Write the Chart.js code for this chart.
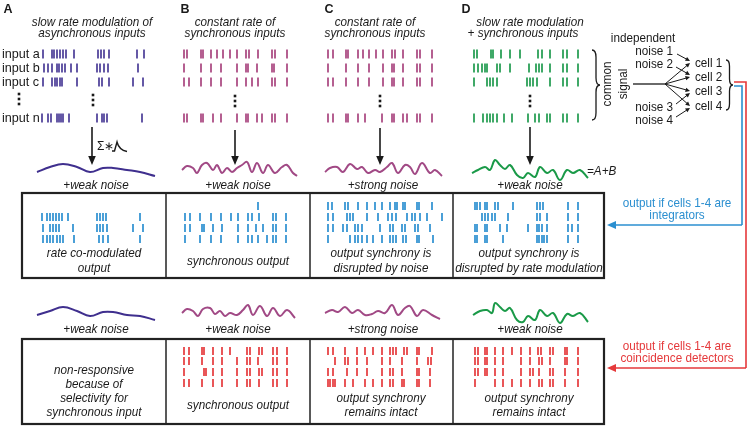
<!DOCTYPE html>
<html><head><meta charset="utf-8">
<script src="https://cdn.jsdelivr.net/npm/chart.js@4.4.0/dist/chart.umd.min.js"></script>
<style>html,body{margin:0;padding:0;background:#fff;overflow:hidden}canvas{display:block}</style>
</head><body>
<canvas id="c" width="750" height="427" style="width:750px;height:427px"></canvas>
<script>
// ---------- DATA ----------
const panelLetters = ['A','B','C','D'];
const panelTitles = [['slow rate modulation of','asynchronous inputs'],['constant rate of','synchronous inputs'],['constant rate of','synchronous inputs'],['slow rate modulation','+ synchronous inputs']];
const inputLabels = ['input a','input b','input c','input n'];
const noiseLabelsRow1 = ['+weak noise','+weak noise','+strong noise','+weak noise'];
const noiseLabelsRow2 = ['+weak noise','+weak noise','+strong noise','+weak noise'];
const box1Texts = [['rate co-modulated','output'],['synchronous output'],['output synchrony is','disrupted by noise'],['output synchrony is','disrupted by rate modulation']];
const box2Texts = [['non-responsive','because of','selectivity for','synchronous input'],['synchronous output'],['output synchrony','remains intact'],['output synchrony','remains intact']];
const cellLabels = ['cell 1','cell 2','cell 3','cell 4'];
const noiseLabels = ['noise 1','noise 2','noise 3','noise 4'];

// spike times (x scale units), one array per input row
const inA = [[43,52,54,57,60,63,66,74,98,101,104,109,137,144],[44,48,52,57,59,62,65,71,77,97,100,104,108,138],[43,52,55,57,60,62,77,99,102,109,133,143],[42,48,51,57,59,61,63,69,97,102,104,107,142]];
const inB = [[184,187,201,203,211,217,223,230,237,246,249,258,272,275,287],[184,201,211,221,237,246,248,257,272,274,287],[184,189,201,211,221,237,246,252,258,272,275,287],[184,187,201,203,213,221,237,246,248,257,262,272,275,287]];
const inC = [[328,333,346,348,358,363,369,376,383,392,395,403,417,420,432],[328,346,358,369,383,392,394,403,417,420,432],[328,333,346,358,369,383,392,394,403,417,420,432],[328,333,346,348,358,365,382,392,394,403,407,417,420,432]];
const inD = [[474,477,491,493,501,510,520,538,542,550,563,567,578],[474,478,482,485,487,497,500,510,529,536,539,542,550,563,567,578],[474,487,490,493,497,527,530,533,537,550,563,567,578],[474,483,487,490,493,497,504,512,528,535,539,547,550,563,567,578]];

// integrator outputs (blue), rows cell1..cell4 (top row first)
const intA = [[],[42,47,50,53,56,59,62,68,97,100,103,106,140],[43,50,53,56,59,73,97,100,103,107,133,143],[43,47,50,53,57,60,63,74,99,103,108,140]];
const intB = [[258],[185,190,200,211,221,231,238,248,252,259,273,276,286],[185,190,202,204,213,222,238,248,256,263,273,276,286],[185,200,211,221,238,248,252,258,267,273,276,286]];
const intC = [[328,332,345,348,358,367,375,382,390,395,397,403,405,417,419,432],[328,333,347,350,353,367,378,388,392,396,407,412,415,420,427,442],[328,333,343,347,355,358,362,380,390,393,402,405,415,418,430],[328,350,355,358,362,367,373,382,390,393,396,403,406,417,419,433]];
const intD = [[475,477,480,485,487,495,498,513,537,540,543,568,578],[482,485,488,492,495,508,537,540,547,568,578],[475,477,485,487,500,507,528,537,539,542,547,568,572,578],[475,477,485,487,503,537,539,542,544,547,568,578]];

// coincidence detector outputs (red)
const coB = [[184,189,202,204,213,222,230,247,250,259,262,273,277,287],[184,189,202,213,222,237,247,250,258,273,277,287],[184,204,206,213,222,237,247,250,259,262,273,277,287],[184,189,202,213,222,237,247,250,259,273,277,287]];
const coC = [[328,333,345,357,365,373,382,390,393,396,404,407,417,419,432],[335,345,348,357,367,382,390,402,417,428,431],[328,333,347,357,367,382,390,393,402,417,419,430],[328,330,333,335,345,353,365,373,382,390,393,402,404,417,419,430]];
const coD = [[475,478,485,487,495,503,512,521,530,538,541,550,553,565,567,578],[475,478,485,487,495,503,521,530,539,542,550,565,567,578],[475,478,485,487,495,503,521,530,533,539,550,553,565,578],[475,495,503,512,521,530,539,542,550,553,565,578]];

// summed input traces [x, y]
const waveA1 = [[37,172],[50,167],[63,164],[77,167],[90,172],[103,168],[113,168],[127,170],[140,172],[155,176]];
const waveB1 = [[182,170],[187,166],[193,168],[197,173],[202,165],[207,163],[213,170],[217,165],[222,173],[227,168],[232,172],[237,168],[242,165],[247,162],[252,172],[257,163],[263,173],[268,165],[275,173],[282,167],[287,165],[293,173],[297,176]];
const waveC1 = [[325,172],[330,168],[337,167],[343,172],[350,164],[357,169],[362,167],[368,173],[375,170],[380,172],[387,167],[392,163],[398,173],[405,165],[410,167],[415,174],[422,163],[430,173],[435,170],[442,176]];
const waveD1 = [[472,173],[478,170],[485,167],[490,170],[495,160],[500,165],[505,169],[510,165],[517,175],[523,178],[528,173],[535,177],[540,167],[547,173],[553,170],[560,180],[567,170],[573,173],[580,170],[588,178]];
const waveA2 = [[37,315],[50,311],[63,307],[77,311],[90,316],[103,312],[113,312],[127,315],[140,316],[155,320]];
const waveB2 = [[182,313],[187,309],[193,311],[198,316],[203,309],[210,308],[215,314],[220,311],[225,316],[230,313],[237,315],[243,310],[248,305],[253,315],[260,306],[267,316],[273,308],[280,316],[287,310],[295,318]];
const waveC2 = [[325,313],[332,310],[338,312],[345,307],[352,313],[358,310],[365,315],[372,314],[378,311],[385,313],[392,305],[398,315],[405,308],[410,306],[417,316],[423,310],[432,315],[440,319]];
const waveD2 = [[473,315],[480,311],[487,310],[492,313],[495,303],[500,307],[505,311],[510,308],[517,320],[523,322],[528,316],[535,320],[540,310],[547,316],[553,313],[560,323],[567,314],[573,316],[580,313],[588,322]];

// ---------- LAYOUT / STYLE ----------
const FONT = '"Liberation Sans", Arial, Helvetica, sans-serif';
const COL = {purple:'#4a3b97', purpleW:'#3f2f8e', mag:'#a8447e', magW:'#a14985', green:'#1e9a4d', greenW:'#1a9a48', blue:'#2b8fd0', red:'#e5393b', ink:'#1a1a1a'};
const topRowsY = [54,68,82,118];
const box1RowsY = [206,217,228,239];
const box2RowsY = [351,361,372,383];
const colCenters = [94,238,381,529];

function raster(rows, ys, color, half){
  const data = [];
  rows.forEach((r,i)=> r.forEach(x=> data.push({x:x, y:ys[i]})));
  return {type:'scatter', data, showLine:false, pointStyle:'line', rotation:90, pointRadius:half, pointHoverRadius:half,
    pointBorderColor:color, pointBackgroundColor:color, pointBorderWidth:1.7, clip:false};
}
function wave(pts, color){
  return {type:'line', data: pts.map(p=>({x:p[0], y:p[1]})), showLine:true, borderColor:color, borderWidth:2,
    pointRadius:0, tension:0.4, fill:false, clip:false};
}

const datasets = [
  raster(inA, topRowsY, COL.purple, 4.5),
  raster(inB, topRowsY, COL.mag, 4.5),
  raster(inC, topRowsY, COL.mag, 4.5),
  raster(inD, topRowsY, COL.green, 4.5),
  raster(intA, box1RowsY, COL.blue, 4),
  raster(intB, box1RowsY, COL.blue, 4),
  raster(intC, box1RowsY, COL.blue, 4),
  raster(intD, box1RowsY, COL.blue, 4),
  raster(coB, box2RowsY, COL.red, 4),
  raster(coC, box2RowsY, COL.red, 4),
  raster(coD, box2RowsY, COL.red, 4),
  wave(waveA1, COL.purpleW), wave(waveB1, COL.magW), wave(waveC1, COL.magW), wave(waveD1, COL.greenW),
  wave(waveA2, COL.purpleW), wave(waveB2, COL.magW), wave(waveC2, COL.magW), wave(waveD2, COL.greenW)
];

function arrow(ctx, x1,y1,x2,y2, color, lw, hl, hw){
  const a = Math.atan2(y2-y1, x2-x1);
  ctx.save(); ctx.strokeStyle=color; ctx.fillStyle=color; ctx.lineWidth=lw;
  ctx.beginPath(); ctx.moveTo(x1,y1); ctx.lineTo(x2 - Math.cos(a)*hl*0.8, y2 - Math.sin(a)*hl*0.8); ctx.stroke();
  ctx.beginPath(); ctx.moveTo(x2,y2);
  ctx.lineTo(x2 - Math.cos(a)*hl + Math.sin(a)*hw, y2 - Math.sin(a)*hl - Math.cos(a)*hw);
  ctx.lineTo(x2 - Math.cos(a)*hl - Math.sin(a)*hw, y2 - Math.sin(a)*hl + Math.cos(a)*hw);
  ctx.closePath(); ctx.fill(); ctx.restore();
}
function brace(ctx, x, y1, y2, w){
  const ym = (y1+y2)/2, m = x + w*0.5, r = w*0.9;
  ctx.beginPath();
  ctx.moveTo(x, y1);
  ctx.quadraticCurveTo(m, y1, m, y1+r);
  ctx.lineTo(m, ym-r);
  ctx.quadraticCurveTo(m, ym, x+w, ym);
  ctx.quadraticCurveTo(m, ym, m, ym+r);
  ctx.lineTo(m, y2-r);
  ctx.quadraticCurveTo(m, y2, x, y2);
  ctx.stroke();
}
// text with horizontal condensation (reference typeface is narrow)
function text(ctx, s, x, y, font, color, align, sx){
  ctx.save();
  ctx.font = font; ctx.fillStyle = color; ctx.textAlign = align || 'center'; ctx.textBaseline = 'middle';
  ctx.translate(x, y); ctx.scale(sx || 0.9, 1);
  ctx.fillText(s, 0, 0);
  ctx.restore();
}

const deco = {
  id:'deco',
  beforeDatasetsDraw(chart){
    const ctx = chart.ctx, X = v=>chart.scales.x.getPixelForValue(v), Y = v=>chart.scales.y.getPixelForValue(v);
    ctx.save(); ctx.strokeStyle = '#222';
    [[193,278],[339,424]].forEach(([t,b])=>{
      ctx.lineWidth = 2.2; ctx.strokeRect(X(22), Y(t), X(604)-X(22), Y(b)-Y(t));
      ctx.lineWidth = 1.5;
      [166,310,453].forEach(d=>{ ctx.beginPath(); ctx.moveTo(X(d),Y(t)); ctx.lineTo(X(d),Y(b)); ctx.stroke(); });
    });
    ctx.restore();
  },
  afterDatasetsDraw(chart){
    const ctx = chart.ctx, X = v=>chart.scales.x.getPixelForValue(v), Y = v=>chart.scales.y.getPixelForValue(v);
    const IT = 'italic 13px ' + FONT, RG = '13px ' + FONT;
    ctx.save();
    // panel letters & titles
    const letterX = [8,185,329,466];
    panelLetters.forEach((l,i)=> text(ctx, l, X(letterX[i]), Y(9.5), 'bold 12.5px '+FONT, COL.ink, 'center', 1));
    const titleX = [[92,92],[235,235],[375,375],[530,523]];
    panelTitles.forEach((t,i)=> t.forEach((s,j)=> text(ctx, s, X(titleX[i][j]), Y(22+j*11.5), IT, COL.ink)));
    // input labels
    inputLabels.forEach((s,i)=> text(ctx, s, X(2), Y(topRowsY[i]), RG, COL.ink, 'left', 0.97));
    // vertical dots
    ctx.fillStyle = COL.ink;
    const dotCols = [[19,94],[93,95],[235,96],[380,96],[530,96]];
    dotCols.forEach(([x,y0])=>{ for(let k=0;k<3;k++){ ctx.fillRect(X(x)-1.3, Y(y0+k*5)-1.3, 2.6, 2.6);} });
    // downward arrows
    [[92,127],[235,130],[380,128],[530,127]].forEach(([x,y0])=> arrow(ctx, X(x), Y(y0), X(x), Y(165), COL.ink, 1.6, 9, 3.8));
    // sum * kernel label
    text(ctx, 'Σ∗', X(97), Y(147), '12px '+FONT, COL.ink, 'left', 1);
    ctx.strokeStyle = COL.ink; ctx.lineWidth = 1.4;
    ctx.beginPath(); ctx.moveTo(X(112),Y(151)); ctx.lineTo(X(114.5),Y(151)); ctx.lineTo(X(117),Y(142));
    ctx.quadraticCurveTo(X(119),Y(150), X(127),Y(151.5)); ctx.stroke();
    // noise labels
    const nX1 = [96,238,383,530];
    noiseLabelsRow1.forEach((s,i)=> text(ctx, s, X(nX1[i]), Y(185), IT, COL.ink));
    noiseLabelsRow2.forEach((s,i)=> text(ctx, s, X(nX1[i]), Y(329), IT, COL.ink));
    text(ctx, '=A+B', X(587), Y(171), IT, COL.ink, 'left');
    // box texts
    const b1Y = [[253,268],[261],[253,268],[253,268]];
    box1Texts.forEach((t,i)=> t.forEach((s,j)=> text(ctx, s, X(colCenters[i]), Y(b1Y[i][j]), IT, COL.ink)));
    const b2Y = [[370,384,398,412],[405],[398,412],[398,412]];
    box2Texts.forEach((t,i)=> t.forEach((s,j)=> text(ctx, s, X(colCenters[i]), Y(b2Y[i][j]), IT, COL.ink)));
    // network diagram
    ctx.strokeStyle = COL.ink; ctx.lineWidth = 1.3;
    brace(ctx, X(592), Y(50), Y(120), 8);
    brace(ctx, X(726), Y(60), Y(110), 7);
    ctx.save(); ctx.translate(X(607), Y(84)); ctx.rotate(-Math.PI/2);
    text(ctx, 'common', 0, 0, RG, COL.ink); ctx.restore();
    ctx.save(); ctx.translate(X(623), Y(84)); ctx.rotate(-Math.PI/2);
    text(ctx, 'signal', 0, 0, RG, COL.ink); ctx.restore();
    text(ctx, 'independent', X(643), Y(38), RG, COL.ink);
    const noiseY = [51,64,107,120];
    noiseLabels.forEach((s,i)=> text(ctx, s, X(673), Y(noiseY[i]), RG, COL.ink, 'right'));
    const cellY = [63,77,91,106];
    cellLabels.forEach((s,i)=> text(ctx, s, X(695), Y(cellY[i]), RG, COL.ink, 'left'));
    ctx.beginPath(); ctx.moveTo(X(633),Y(84)); ctx.lineTo(X(665),Y(84)); ctx.stroke();
    cellY.forEach(cy=> arrow(ctx, X(665), Y(84), X(690), Y(cy), COL.ink, 1, 4.5, 2.2));
    const noiseFrom = [[677,54],[676,67],[676,104],[676,117]];
    noiseFrom.forEach(([nx,ny],i)=> arrow(ctx, X(nx), Y(ny), X(690), Y(cellY[i]+(i<2?-2:2)), COL.ink, 1, 4.5, 2.2));
    // output routing lines
    ctx.lineWidth = 1.6;
    ctx.strokeStyle = COL.red;
    ctx.beginPath(); ctx.moveTo(X(734),Y(82)); ctx.lineTo(X(746),Y(82)); ctx.lineTo(X(746),Y(368)); ctx.stroke();
    arrow(ctx, X(746), Y(368), X(607), Y(368), COL.red, 1.6, 9, 4);
    ctx.strokeStyle = COL.blue;
    ctx.beginPath(); ctx.moveTo(X(734),Y(86)); ctx.lineTo(X(742),Y(86)); ctx.lineTo(X(742),Y(225)); ctx.stroke();
    arrow(ctx, X(742), Y(225), X(607), Y(225), COL.blue, 1.6, 9, 4);
    text(ctx, 'output if cells 1-4 are', X(677), Y(203), RG, COL.blue);
    text(ctx, 'integrators', X(677), Y(215), RG, COL.blue);
    text(ctx, 'output if cells 1-4 are', X(677), Y(346), RG, COL.red);
    text(ctx, 'coincidence detectors', X(677), Y(358), RG, COL.red);
    ctx.restore();
  }
};

const chart = new Chart(document.getElementById('c'), {
  type:'scatter',
  data:{datasets},
  options:{
    responsive:false, animation:false, devicePixelRatio:1,
    layout:{padding:0},
    scales:{
      x:{type:'linear', min:0, max:750, display:false},
      y:{type:'linear', min:0, max:427, reverse:true, display:false}
    },
    plugins:{legend:{display:false}, tooltip:{enabled:false}}
  },
  plugins:[deco]
});
// make scale values coincide with page pixels (chart area is inset by point overflow)
const ca = chart.chartArea;
chart.options.scales.x.min = ca.left; chart.options.scales.x.max = ca.right;
chart.options.scales.y.min = ca.top; chart.options.scales.y.max = ca.bottom;
chart.update();
</script>
</body></html>
